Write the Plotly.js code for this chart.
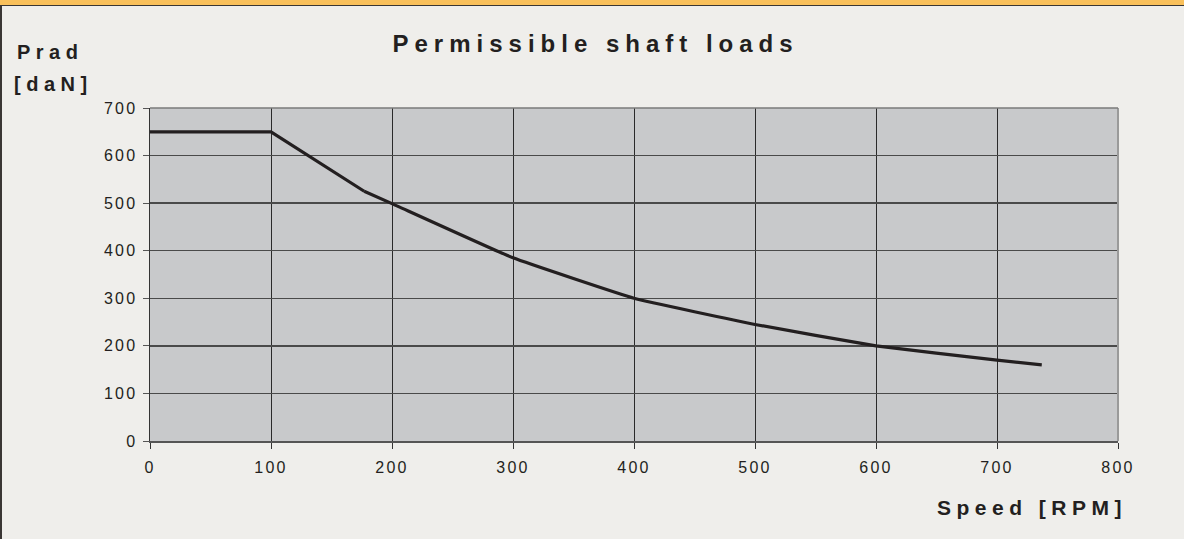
<!DOCTYPE html>
<html>
<head>
<meta charset="utf-8">
<script src="https://cdn.plot.ly/plotly-3.0.1.min.js"></script>
<style>
  html, body { margin: 0; padding: 0; background: #EFEEEB; }
  #wrap { position: relative; width: 1184px; height: 539px; overflow: hidden; }
  #chart { position: absolute; left: 0; top: 0; width: 1184px; height: 539px; }
  #topbar { position: absolute; left: 0; top: 0; width: 1184px; height: 5px; background: #F9C05B; z-index: 5; }
  #topline { position: absolute; left: 0; top: 5px; width: 1184px; height: 1px; background: #3a3634; z-index: 5; }
  #leftline { position: absolute; left: 0; top: 5px; width: 2px; height: 534px; background: #3a3634; z-index: 5; }
  .xtick text, .ytick text { letter-spacing: 2.2px; }
  .gtitle { letter-spacing: 6px; }
  .annotation-text { letter-spacing: 5.5px; }
</style>
</head>
<body>
<div id="wrap">
  <div id="chart"></div>
  <div id="topbar"></div>
  <div id="topline"></div>
  <div id="leftline"></div>
</div>
<script>
const speedRPM = [0, 100, 177, 200, 300, 400, 500, 600, 700, 737];
const pradDaN  = [650, 650, 525, 499, 385, 300, 245, 200, 170, 160];
const xTicks = [0, 100, 200, 300, 400, 500, 600, 700, 800];
const yTicks = [0, 100, 200, 300, 400, 500, 600, 700];

const traceA = {
  x: speedRPM.slice(0, 3), y: pradDaN.slice(0, 3), type: 'scatter', mode: 'lines',
  line: { color: '#231F20', width: 3.2 }, hoverinfo: 'skip'
};
const traceB = {
  x: speedRPM.slice(2), y: pradDaN.slice(2), type: 'scatter', mode: 'lines',
  line: { color: '#231F20', width: 3.2, shape: 'spline', smoothing: 0.3 }, hoverinfo: 'skip'
};

const FONT = 'Liberation Sans, Arial, sans-serif';
const layout = {
  width: 1184, height: 539,
  margin: { l: 150, r: 66, t: 108, b: 98 },
  paper_bgcolor: 'rgba(0,0,0,0)',
  plot_bgcolor: '#C8C9CB',
  showlegend: false,
  font: { family: FONT, color: '#231F20' },
  title: {
    text: '<b>Permissible shaft loads</b>',
    font: { size: 24, color: '#231F20', family: FONT },
    x: 0.503, xref: 'container', xanchor: 'center',
    y: 1 - 44 / 539, yref: 'container', yanchor: 'middle'
  },
  xaxis: {
    range: [0, 800], tickvals: xTicks, ticktext: xTicks.map(String),
    showgrid: true, gridcolor: '#2a2a2a', gridwidth: 1,
    showline: true, linecolor: '#555', linewidth: 2, mirror: false,
    ticks: 'outside', ticklen: 6, tickcolor: '#333', tickwidth: 1,
    ticklabelstandoff: 5,
    tickfont: { size: 16, color: '#231F20' },
    zeroline: false, fixedrange: true
  },
  yaxis: {
    range: [0, 700], tickvals: yTicks, ticktext: yTicks.map(String),
    showgrid: true, gridcolor: '#4a4a4a', gridwidth: 1.5,
    showline: true, linecolor: '#333', linewidth: 1.5,
    ticks: 'outside', ticklen: 6, tickcolor: '#555', tickwidth: 1,
    ticklabelstandoff: 2,
    tickfont: { size: 16, color: '#231F20' },
    zeroline: false, fixedrange: true
  },
  shapes: [
    { type: 'line', xref: 'paper', yref: 'paper', x0: 1, x1: 1, y0: 0, y1: 1,
      line: { color: '#9a9a9a', width: 2 } },
    { type: 'line', xref: 'paper', yref: 'paper', x0: 0, x1: 1, y0: 1, y1: 1,
      line: { color: '#7a7a7a', width: 1.5 } }
  ],
  annotations: [
    { text: '<b>Prad</b>', xref: 'paper', yref: 'paper', x: -0.1395, y: 1.168,
      xanchor: 'left', yanchor: 'middle', showarrow: false,
      font: { size: 20, color: '#231F20' } },
    { text: '<b>[daN]</b>', xref: 'paper', yref: 'paper', x: -0.1425, y: 1.072,
      xanchor: 'left', yanchor: 'middle', showarrow: false,
      font: { size: 20, color: '#231F20' } },
    { text: '<b>Speed [RPM]</b>', xref: 'paper', yref: 'paper', x: 1.0114, y: -0.201,
      xanchor: 'right', yanchor: 'middle', showarrow: false,
      font: { size: 21, color: '#231F20' } }
  ]
};

Plotly.newPlot('chart', [traceA, traceB], layout, { displayModeBar: false, staticPlot: true });
</script>
</body>
</html>
